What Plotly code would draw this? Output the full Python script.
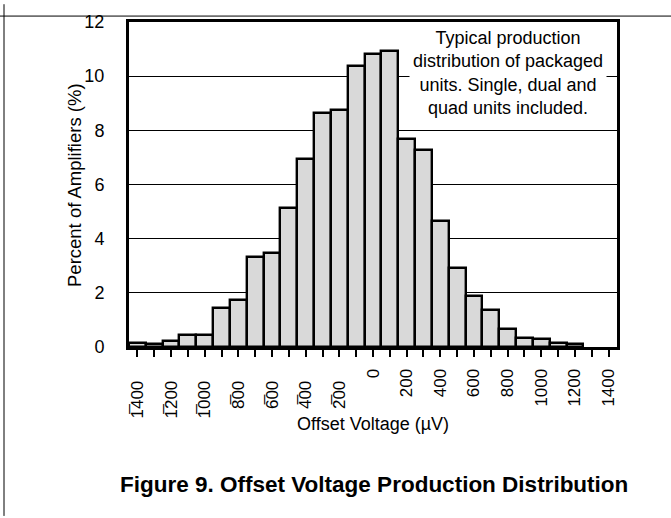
import plotly.graph_objects as go

# Data
bin_centers = [-1400, -1300, -1200, -1100, -1000, -900, -800, -700, -600, -500,
               -400, -300, -200, -100, 0, 100, 200, 300, 400, 500,
               600, 700, 800, 900, 1000, 1100, 1200]
percent = [0.15, 0.10, 0.22, 0.45, 0.45, 1.43, 1.72, 3.34, 3.47, 5.15,
           6.95, 8.63, 8.75, 10.37, 10.82, 10.92, 7.69, 7.29, 4.65, 2.90,
           1.88, 1.38, 0.68, 0.33, 0.28, 0.15, 0.10]
tick_vals = list(range(-1400, 1401, 100))
label_vals = list(range(-1400, 1401, 200))


def lab(v):
    if v not in label_vals:
        return ""
    if v < 0:
        s = str(-v)
        return s[0] + "\u0305" + s[1:] + "\u2002\u2009"
    return str(v)


tick_text = [lab(v) for v in tick_vals]

L, R, T, B = 129, 617, 18, 347
W, H = 671, 518
pw, ph = R - L, B - T


def px(x):
    return (x - L) / pw


def py(y):
    return (B - y) / ph


fig = go.Figure()
fig.add_trace(go.Bar(
    x=bin_centers, y=percent, width=100,
    marker=dict(color="#d9d9d9", line=dict(color="black", width=2.4)),
    hoverinfo="skip",
))

font = "Liberation Sans, Arial, sans-serif"

fig.update_layout(
    width=W, height=H,
    margin=dict(l=L, r=W - R, t=T, b=H - B),
    paper_bgcolor="white", plot_bgcolor="white",
    showlegend=False, bargap=0,
    font=dict(family=font, color="black", size=18),
    xaxis=dict(
        range=[-1450, 1450], tickmode="array", tickvals=tick_vals, ticktext=tick_text,
        tickangle=-90, ticks="outside", ticklen=7, tickwidth=2, tickcolor="black",
        showgrid=False, zeroline=False, showline=True, linewidth=3, linecolor="black",
        mirror=True, tickfont=dict(size=17), ticklabelstandoff=5,
    ),
    yaxis=dict(
        range=[0, 12], tickmode="array", tickvals=[0, 2, 4, 6, 8, 10, 12],
        ticks="", showgrid=True, gridcolor="black", gridwidth=1, zeroline=False,
        showline=True, linewidth=3, linecolor="black", mirror=True,
        tickfont=dict(size=18), ticklabelstandoff=18,
    ),
    annotations=[
        dict(xref="x", yref="y", x=800, y=10.1,
             text="Typical production<br>distribution of packaged<br>units. Single, dual and<br>quad units included.",
             showarrow=False, bgcolor="white", borderpad=3, align="center",
             xanchor="center", yanchor="middle", font=dict(size=18)),
        dict(xref="paper", yref="paper", x=px(373), y=py(425),
             xanchor="center", yanchor="middle",
             text="Offset Voltage (µV)", showarrow=False, font=dict(size=18)),
        dict(xref="paper", yref="paper", x=px(75), y=py(183),
             xanchor="center", yanchor="middle",
             text="Percent of Amplifiers (%)", showarrow=False, textangle=-90,
             font=dict(size=18.5)),
        dict(xref="paper", yref="paper", x=px(374), y=py(486),
             xanchor="center", yanchor="middle",
             text="<b>Figure 9. Offset Voltage Production Distribution</b>",
             showarrow=False, font=dict(size=22.5)),
    ],
    shapes=[
        dict(type="line", xref="paper", yref="paper", x0=px(0), x1=px(W), y0=py(12), y1=py(12),
             line=dict(color="black", width=1)),
        dict(type="line", xref="paper", yref="paper", x0=px(4), x1=px(4), y0=py(0), y1=py(H),
             line=dict(color="black", width=1)),
    ],
)

fig.write_html("out.html", config={"displayModeBar": False},
               post_script="document.body.style.margin='0';")
